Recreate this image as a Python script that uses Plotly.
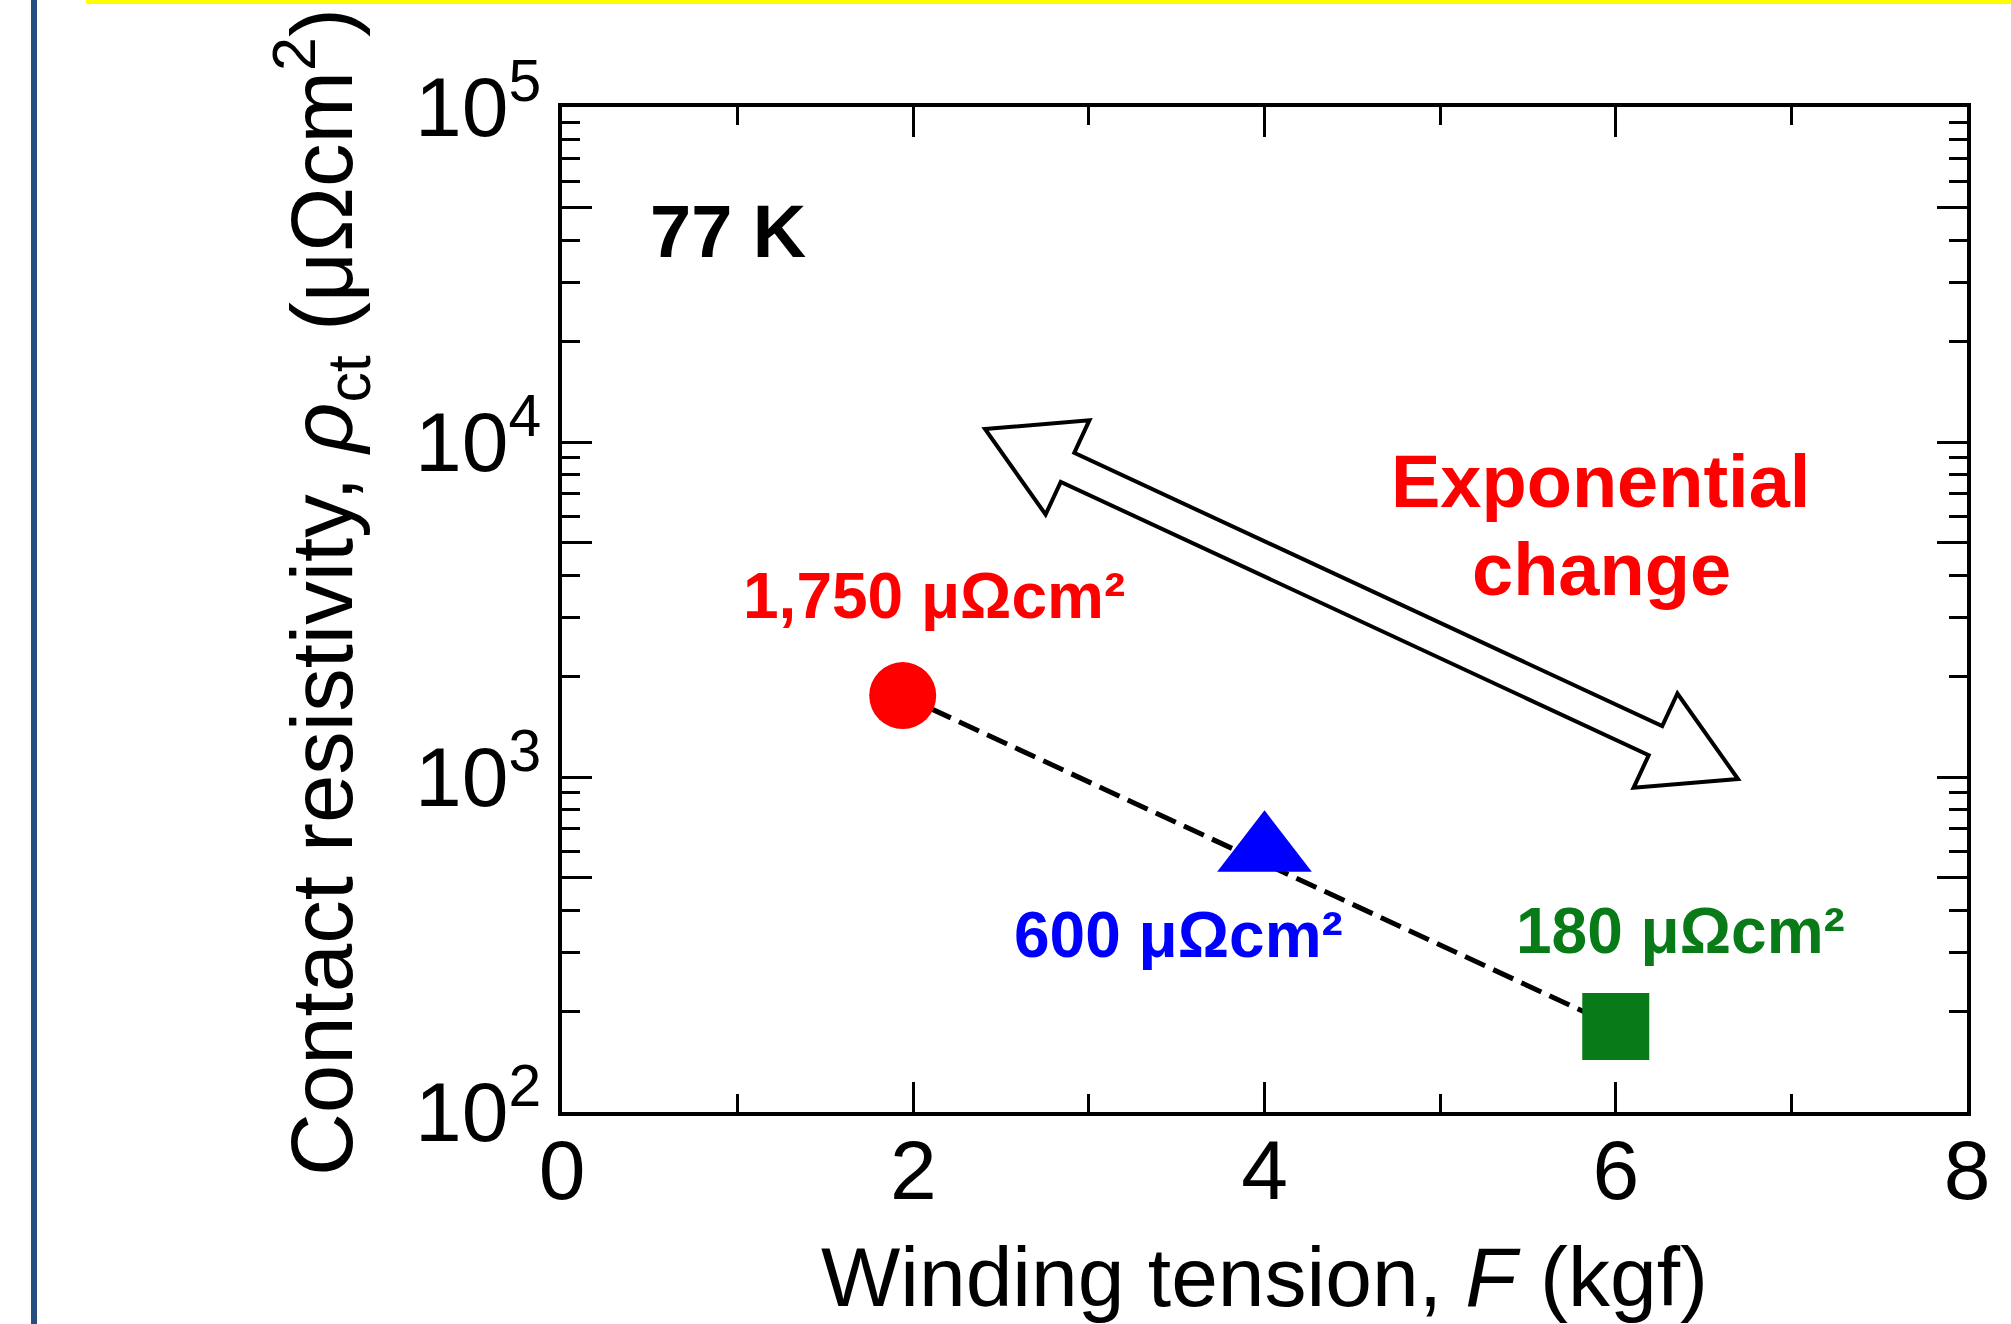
import math
import plotly.graph_objects as go

# ---------------- data ----------------
tension = [1.94, 4.0, 6.0]                      # Winding tension F (kgf)
resistivity = [1750, 600, 180]                  # Contact resistivity (µΩcm²)
point_labels = ["1,750 μΩcm²", "600 μΩcm²", "180 μΩcm²"]
point_colors = ["#ff0000", "#0000ff", "#087a17"]
point_symbols = ["circle", "triangle-up", "square"]

x_tickvals = [0, 2, 4, 6, 8]
x_minorvals = [1, 3, 5, 7]
y_tickvals = [1e2, 1e3, 1e4, 1e5]
y_ticktext = ["10<sup>2</sup>", "10<sup>3</sup>", "10<sup>4</sup>", "10<sup>5</sup>"]
y_midvals = [5e2, 5e3, 5e4]
y_minorvals = [m * 10 ** e for e in (2, 3, 4) for m in (2, 3, 4, 6, 7, 8, 9)]

# ---------------- layout geometry ----------------
W, H = 2011, 1324
ML, MR, MT, MB = 562, 44, 107, 212
PW = W - ML - MR
PH = H - MT - MB
FONT = "Liberation Sans, Arial, Helvetica, sans-serif"


def fx(px):
    return (px - ML) / PW


def fy(py):
    return (H - MB - py) / PH


fig = go.Figure()

# dashed trend line between the first and last points
fig.add_trace(go.Scatter(
    x=[tension[0], tension[-1]], y=[resistivity[0], resistivity[-1]],
    mode="lines", line=dict(color="black", width=5, dash="22px,9px"),
    hoverinfo="skip", showlegend=False))

fig.add_trace(go.Scatter(
    x=tension, y=resistivity, mode="markers",
    marker=dict(symbol=point_symbols, color=point_colors, size=[67, 82, 67],
                opacity=1, line=dict(width=0)),
    showlegend=False))

axis_common = dict(
    showline=True, linecolor="black", linewidth=4, mirror="ticks",
    ticks="inside", ticklen=30, tickwidth=3, tickcolor="black",
    showgrid=False, zeroline=False,
    tickfont=dict(family=FONT, size=84, color="black"),
)

fig.update_xaxes(
    range=[0, 8], tickmode="array", tickvals=x_tickvals,
    minor=dict(tickmode="array", tickvals=x_minorvals, ticks="inside",
               ticklen=18, tickwidth=3, tickcolor="black", showgrid=False),
    ticklabelstandoff=-18,
    title=dict(text="Winding tension, <i>F</i> (kgf)",
               font=dict(family=FONT, size=84, color="black"), standoff=40),
    automargin=False, **axis_common)

fig.update_layout(yaxis=dict(
    type="log", range=[2, 5], tickmode="array", tickvals=y_tickvals, ticktext=y_ticktext,
    minor=dict(tickmode="array", tickvals=y_minorvals, ticks="inside",
               ticklen=18, tickwidth=3, tickcolor="black", showgrid=False),
    automargin=False, **axis_common))

# second (overlaid) y axis carrying the longer 5x10^n ticks, no labels
fig.update_layout(yaxis2=dict(
    type="log", range=[2, 5], overlaying="y", anchor="x", side="left",
    tickmode="array", tickvals=y_midvals, showticklabels=False,
    ticks="inside", ticklen=30, tickwidth=3, tickcolor="black",
    showline=False, mirror="ticks", showgrid=False, zeroline=False,
    automargin=False))
fig.add_trace(go.Scatter(x=[tension[0]], y=[resistivity[0]], yaxis="y2", mode="markers",
                         marker=dict(size=1, opacity=0), hoverinfo="skip", showlegend=False))

# ---------------- annotations ----------------
ann = []
ann.append(dict(text="Contact resistivity, <i>ρ</i><sub>ct</sub> (μΩcm<sup>2</sup>)",
                x=fx(321), y=fy(592), textangle=-90, font=dict(size=87, color="black")))
ann.append(dict(text="<b>77 K</b>", x=fx(728), y=fy(231), font=dict(size=74, color="black")))
label_pos = [(934, 596), (1178, 935), (1680, 931)]
for lbl, col, (px, py) in zip(point_labels, point_colors, label_pos):
    ann.append(dict(text=f"<b>{lbl}</b>", x=fx(px), y=fy(py), font=dict(size=64, color=col)))
ann.append(dict(text="<b>Exponential</b>", x=fx(1600), y=fy(481), font=dict(size=74, color="#ff0000")))
ann.append(dict(text="<b>change</b>", x=fx(1601), y=fy(569), font=dict(size=74, color="#ff0000")))
for a in ann:
    a.update(xref="paper", yref="paper", showarrow=False, xanchor="center", yanchor="middle")
    a["font"]["family"] = FONT
fig.update_layout(annotations=ann)

# ---------------- block double arrow ----------------
A = (985, 429)
B = (1738, 779)
dx, dy = B[0] - A[0], B[1] - A[1]
L = math.hypot(dx, dy)
u = (dx / L, dy / L)
n = (-u[1], u[0])
HL, HW, SW = 91, 52, 16


def pt(base, along, side):
    return (base[0] + along * u[0] + side * n[0], base[1] + along * u[1] + side * n[1])


pts = [A, pt(A, HL, -HW), pt(A, HL, -SW), pt(B, -HL, -SW), pt(B, -HL, -HW),
       B, pt(B, -HL, HW), pt(B, -HL, SW), pt(A, HL, SW), pt(A, HL, HW)]
path = "M " + " L ".join(f"{fx(p[0]):.5f},{fy(p[1]):.5f}" for p in pts) + " Z"

shapes = [
    dict(type="path", path=path, xref="paper", yref="paper",
         fillcolor="white", line=dict(color="black", width=4), layer="above"),
    # slide decorations: left blue rule and yellow title band edge
    dict(type="rect", xref="paper", yref="paper", x0=fx(31), x1=fx(37), y0=fy(H), y1=fy(0),
         fillcolor="#254e80", line=dict(width=0)),
    dict(type="rect", xref="paper", yref="paper", x0=fx(86), x1=fx(W), y0=fy(4), y1=fy(0),
         fillcolor="#ffff00", line=dict(width=0)),
]

fig.update_layout(
    width=W, height=H,
    margin=dict(l=ML, r=MR, t=MT, b=MB, pad=0),
    paper_bgcolor="white", plot_bgcolor="white",
    font=dict(family=FONT, color="black"),
    shapes=shapes, showlegend=False,
)

fig.write_html("out.html")
